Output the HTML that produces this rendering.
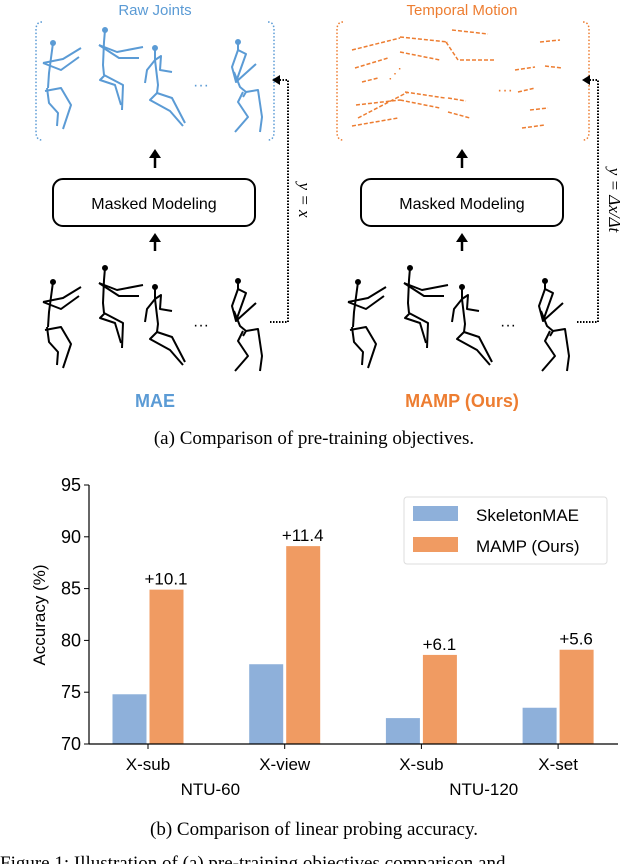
<!DOCTYPE html>
<html><head><meta charset="utf-8"><style>
body{margin:0;background:#fff;width:628px;height:864px;overflow:hidden}
svg{display:block}
</style></head><body>
<svg width="628" height="864" viewBox="0 0 628 864" font-family="Liberation Sans, sans-serif">
<defs>
<g id="f1" fill="none" stroke-width="2" stroke-linejoin="round"><polyline points="0,0 -2,15 -4,30 -5,45"/><polyline points="-10,20 10,16 28,5"/><polyline points="-10,20 8,27 26,14"/><polyline points="-8,48 8,45 18,62 10,86"/><polyline points="-6,45 -4,60 5,70 4,83"/></g>
<g id="f2" fill="none" stroke-width="2" stroke-linejoin="round"><polyline points="0,0 -1,12 -2,35 -1,45"/><polyline points="-6,15 12,22 38,17"/><polyline points="-6,15 14,28 34,28"/><polyline points="0,45 -5,50 10,55 16,75"/><polyline points="-1,45 18,55 17,80"/></g>
<g id="f3" fill="none" stroke-width="2" stroke-linejoin="round"><polyline points="0,0 0,12 3,37 2,45"/><polyline points="0,12 -8,22 -10,35"/><polyline points="0,12 6,8 5,22 17,24"/><polyline points="2,45 -5,52 15,63 28,78"/><polyline points="2,45 17,50 30,75"/></g>
<g id="f4" fill="none" stroke-width="2" stroke-linejoin="round"><polyline points="0,0 0,8 -6,25 -2,40"/><polyline points="0,8 8,12 -2,40 18,22"/><polyline points="-4,30 2,45 8,50 5,55"/><polyline points="5,50 0,60 10,75 -3,90"/><polyline points="8,50 20,48 24,75 22,90"/></g>
</defs>

<g>
<text x="155" y="15" font-size="15" fill="#5b9bd5" text-anchor="middle">Raw Joints</text>
<path d="M42,22 Q36,22 36,30 V132 Q36,140 42,140 M268,22 Q274,22 274,30 V132 Q274,140 268,140" fill="none" stroke="#5b9bd5" stroke-width="1.5" stroke-dasharray="1.5 2"/>
<g stroke="#5b9bd5" fill="#5b9bd5">
<use href="#f1" x="53" y="43"/><use href="#f2" x="105" y="30"/><use href="#f3" x="155" y="48"/><use href="#f4" x="238" y="42"/>
<circle cx="53" cy="43" r="2.5"/><circle cx="105" cy="30" r="2.5"/><circle cx="155" cy="48" r="2.5"/><circle cx="238" cy="42" r="2.5"/>
<text x="201" y="90" font-size="16" stroke="none" text-anchor="middle">···</text>
</g>
<path d="M155,168 V156" stroke="#000" stroke-width="2.5"/><path d="M149,158 L155,149 L161,158Z" fill="#000"/>
<rect x="53" y="179" width="202" height="47" rx="10" fill="#fff" stroke="#000" stroke-width="2"/>
<text x="154" y="209" font-size="16" text-anchor="middle">Masked Modeling</text>
<path d="M155,251 V240" stroke="#000" stroke-width="2.5"/><path d="M149,242 L155,233 L161,242Z" fill="#000"/>
<g stroke="#000" fill="#000">
<use href="#f1" x="53" y="282"/><use href="#f2" x="105" y="268"/><use href="#f3" x="155" y="287"/><use href="#f4" x="238" y="281"/>
<circle cx="53" cy="282" r="2.5"/><circle cx="105" cy="268" r="2.5"/><circle cx="155" cy="287" r="2.5"/><circle cx="238" cy="281" r="2.5"/>
<text x="201" y="330" font-size="16" stroke="none" text-anchor="middle">···</text>
</g>
<path d="M270,322 H288 V80 H278" fill="none" stroke="#000" stroke-width="2" stroke-dasharray="1.5 1.5"/>
<path d="M280,75 L272,80 L280,85Z" fill="#000"/>
<text transform="translate(299,200) rotate(90)" font-size="17" font-family="Liberation Serif, serif" font-style="italic" text-anchor="middle">y = x</text>
<text x="155" y="407" font-size="18" font-weight="bold" fill="#5b9bd5" text-anchor="middle">MAE</text>
</g>

<g>
<text x="462" y="15" font-size="15" fill="#ed7d31" text-anchor="middle">Temporal Motion</text>
<path d="M343,22 Q337,22 337,30 V132 Q337,140 343,140 M583,22 Q589,22 589,30 V132 Q589,140 583,140" fill="none" stroke="#ed7d31" stroke-width="1.5" stroke-dasharray="1.5 2"/>
<g stroke="#ed7d31" stroke-width="1.5" stroke-dasharray="4 2" fill="none">
<path d="M352,50 L400,38 M355,68 L388,58 M400,37 L448,42 M400,52 L440,60 M362,82 L378,78 M356,105 L400,100 M358,118 L408,92 M352,126 L398,118 M400,100 L440,108 M405,92 L445,98 M446,42 L458,60 M448,112 L470,118 M448,98 L466,101 M452,30 L488,34 M460,60 L495,60 M515,70 L535,67 M518,92 L535,88 M522,128 L545,125 M530,110 L548,108 M540,42 L560,40 M545,66 L562,68"/>
</g>
<text x="395" y="78" font-size="14" fill="#ed7d31" text-anchor="middle">⋰</text>
<text x="505" y="95" font-size="16" fill="#ed7d31" text-anchor="middle">···</text>
<path d="M462,168 V156" stroke="#000" stroke-width="2.5"/><path d="M456,158 L462,149 L468,158Z" fill="#000"/>
<rect x="361" y="179" width="202" height="47" rx="10" fill="#fff" stroke="#000" stroke-width="2"/>
<text x="462" y="209" font-size="16" text-anchor="middle">Masked Modeling</text>
<path d="M462,251 V240" stroke="#000" stroke-width="2.5"/><path d="M456,242 L462,233 L468,242Z" fill="#000"/>
<g stroke="#000" fill="#000">
<use href="#f1" x="358" y="282"/><use href="#f2" x="410" y="268"/><use href="#f3" x="462" y="287"/><use href="#f4" x="545" y="281"/>
<circle cx="358" cy="282" r="2.5"/><circle cx="410" cy="268" r="2.5"/><circle cx="462" cy="287" r="2.5"/><circle cx="545" cy="281" r="2.5"/>
<text x="508" y="330" font-size="16" stroke="none" text-anchor="middle">···</text>
</g>
<path d="M577,322 H598 V80 H588" fill="none" stroke="#000" stroke-width="2" stroke-dasharray="1.5 1.5"/>
<path d="M590,75 L582,80 L590,85Z" fill="#000"/>
<text transform="translate(609,200) rotate(90)" font-size="17" font-family="Liberation Serif, serif" font-style="italic" text-anchor="middle">y = Δx/Δt</text>
<text x="462" y="407" font-size="18" font-weight="bold" fill="#ed7d31" text-anchor="middle">MAMP (Ours)</text>
</g>

<text x="314" y="444" font-size="19" font-family="Liberation Serif, serif" text-anchor="middle">(a) Comparison of pre-training objectives.</text>

<g id="chart"></g>

<text x="314" y="835" font-size="19" font-family="Liberation Serif, serif" text-anchor="middle">(b) Comparison of linear probing accuracy.</text>
<text x="0" y="869" font-size="19" font-family="Liberation Serif, serif">Figure 1: Illustration of (a) pre-training objectives comparison and</text>
</svg>
<script>
const categories = ["X-sub","X-view","X-sub","X-set"];
const baseline = [74.8, 77.7, 72.5, 73.5];
const ours = [84.9, 89.1, 78.6, 79.1];
const gains = ["+10.1","+11.4","+6.1","+5.6"];
const yTicks = [70,75,80,85,90,95];
const groups = ["NTU-60","NTU-120"];

const NS="http://www.w3.org/2000/svg";
const g=document.getElementById('chart');
const x0=89,x1=618,yTop=485,yBot=744,vMin=70,vMax=95;
const y=v=>yBot-(v-vMin)/(vMax-vMin)*(yBot-yTop);
const cx=i=>148+i*136.7;
const bw=34;
function mk(tag,attrs,text){const e=document.createElementNS(NS,tag);for(const k in attrs)e.setAttribute(k,attrs[k]);if(text!==undefined)e.textContent=text;g.appendChild(e);return e;}
categories.forEach((c,i)=>{
  let b=mk('rect',{x:cx(i)-bw-1.5,y:y(baseline[i]),width:bw,height:yBot-y(baseline[i]),fill:'#8eb0da'});
  
  
  let o=mk('rect',{x:cx(i)+1.5,y:y(ours[i]),width:bw,height:yBot-y(ours[i]),fill:'#f09b62'});
  
  
  let t=mk('text',{x:cx(i)+18,y:y(ours[i])-5,'font-size':17,'text-anchor':'middle'},gains[i]);
  
  
  mk('line',{x1:cx(i),x2:cx(i),y1:yBot,y2:yBot+5,stroke:'#000','stroke-width':1});
  let l=mk('text',{x:cx(i),y:yBot+26,'font-size':17,'text-anchor':'middle'},c);
  
  
});
groups.forEach((gname,j)=>{
  let t=mk('text',{x:(cx(2*j)+cx(2*j+1))/2-6,y:yBot+51,'font-size':17,'text-anchor':'middle'},gname);
  
  
});
yTicks.forEach(v=>{
  mk('line',{x1:x0-5,x2:x0,y1:y(v),y2:y(v),stroke:'#000','stroke-width':1});
  let t=mk('text',{x:x0-8,y:y(v)+6,'font-size':18,'text-anchor':'end'},v);
  
  
});
mk('line',{x1:x0,x2:x0,y1:yTop,y2:yBot,stroke:'#000','stroke-width':1.2});
mk('line',{x1:x0,x2:x1,y1:yBot,y2:yBot,stroke:'#000','stroke-width':1.2});
let yt=mk('text',{transform:'translate(45,615) rotate(-90)','font-size':17,'text-anchor':'middle'},'Accuracy (%)');


let lg=mk('rect',{x:404,y:497,width:203,height:67,rx:3,fill:'#fff',stroke:'#ddd','stroke-width':1});


mk('rect',{x:413,y:506,width:45,height:15,fill:'#8eb0da'});
let l1=mk('text',{x:476,y:521,'font-size':17},'SkeletonMAE');


mk('rect',{x:413,y:537,width:45,height:15,fill:'#f09b62'});
let l2=mk('text',{x:476,y:552,'font-size':17},'MAMP (Ours)');


</script>
</body></html>
